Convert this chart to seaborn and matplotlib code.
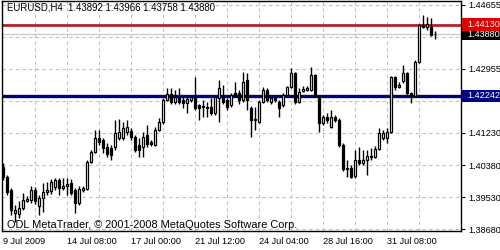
import matplotlib
matplotlib.use("Agg")
import numpy as np
import pandas as pd
import seaborn as sns
import matplotlib.pyplot as plt
import matplotlib.transforms as mtransforms
from matplotlib.patches import Rectangle

# ---------------- data ----------------
opens = [1.4035, 1.4009, 1.3974, 1.3913, 1.3910, 1.3926, 1.3945, 1.3948, 1.3974, 1.3932,
         1.3953, 1.3969, 1.3972, 1.3982, 1.4001, 1.3980, 1.3985, 1.3993, 1.3974, 1.3940,
         1.3974, 1.3977, 1.4048, 1.4075, 1.4112, 1.4107, 1.4088, 1.4085, 1.4088, 1.4112,
         1.4112, 1.4128, 1.4131, 1.4115, 1.4094, 1.4088, 1.4120, 1.4101, 1.4094, 1.4133,
         1.4155, 1.4213, 1.4229, 1.4208, 1.4221, 1.4213, 1.4205, 1.4213, 1.4218, 1.4200,
         1.4197, 1.4194, 1.4194, 1.4179, 1.4218, 1.4218, 1.4213, 1.4200, 1.4232, 1.4232,
         1.4213, 1.4266, 1.4192, 1.4160, 1.4155, 1.4208, 1.4240, 1.4208, 1.4221, 1.4208,
         1.4200, 1.4226, 1.4248, 1.4285, 1.4208, 1.4237, 1.4240, 1.4240, 1.4280, 1.4224,
         1.4152, 1.4168, 1.4141, 1.4168, 1.4160, 1.4094, 1.4032, 1.4032, 1.4011, 1.4054,
         1.4046, 1.4054, 1.4061, 1.4061, 1.4083, 1.4112, 1.4112, 1.4128, 1.4274, 1.4248,
         1.4264, 1.4285, 1.4232, 1.4224, 1.4314, 1.4412, 1.4407, 1.4407, 1.43892]
highs = [1.4046, 1.4014, 1.3980, 1.3934, 1.3945, 1.3966, 1.3958, 1.3985, 1.3982, 1.3961,
         1.3993, 1.3995, 1.4003, 1.4006, 1.4006, 1.4006, 1.4006, 1.4003, 1.3980, 1.3985,
         1.3985, 1.4054, 1.4080, 1.4133, 1.4133, 1.4112, 1.4099, 1.4094, 1.4160, 1.4163,
         1.4155, 1.4160, 1.4139, 1.4120, 1.4112, 1.4128, 1.4147, 1.4107, 1.4141, 1.4165,
         1.4218, 1.4245, 1.4245, 1.4240, 1.4245, 1.4221, 1.4221, 1.4226, 1.4274, 1.4202,
         1.4213, 1.4208, 1.4218, 1.4224, 1.4266, 1.4253, 1.4218, 1.4232, 1.4261, 1.4240,
         1.4288, 1.4285, 1.4197, 1.4194, 1.4213, 1.4248, 1.4245, 1.4221, 1.4226, 1.4213,
         1.4232, 1.4250, 1.4298, 1.4288, 1.4245, 1.4250, 1.4250, 1.4301, 1.4282, 1.4226,
         1.4173, 1.4179, 1.4187, 1.4173, 1.4165, 1.4099, 1.4054, 1.4040, 1.4080, 1.4088,
         1.4080, 1.4080, 1.4085, 1.4091, 1.4139, 1.4133, 1.4139, 1.4277, 1.4277, 1.4261,
         1.4306, 1.4288, 1.4234, 1.4319, 1.4415, 1.4439, 1.4434, 1.4431, 1.43966]
lows = [1.4001, 1.3961, 1.3908, 1.3890, 1.3900, 1.3921, 1.3942, 1.3940, 1.3937, 1.3908,
        1.3916, 1.3961, 1.3964, 1.3974, 1.3961, 1.3974, 1.3961, 1.3961, 1.3913, 1.3934,
        1.3969, 1.3974, 1.4046, 1.4072, 1.4094, 1.4072, 1.4061, 1.4054, 1.4080, 1.4107,
        1.4107, 1.4120, 1.4107, 1.4075, 1.4061, 1.4061, 1.4088, 1.4091, 1.4091, 1.4131,
        1.4149, 1.4210, 1.4202, 1.4202, 1.4202, 1.4192, 1.4179, 1.4208, 1.4187, 1.4160,
        1.4168, 1.4168, 1.4173, 1.4173, 1.4155, 1.4202, 1.4187, 1.4194, 1.4224, 1.4202,
        1.4208, 1.4187, 1.4115, 1.4133, 1.4152, 1.4205, 1.4208, 1.4202, 1.4208, 1.4168,
        1.4194, 1.4224, 1.4245, 1.4202, 1.4205, 1.4234, 1.4237, 1.4237, 1.4221, 1.4128,
        1.4147, 1.4152, 1.4139, 1.4155, 1.4088, 1.4024, 1.4009, 1.4006, 1.4006, 1.4040,
        1.4040, 1.4014, 1.4054, 1.4059, 1.4080, 1.4107, 1.4099, 1.4125, 1.4240, 1.4245,
        1.4258, 1.4226, 1.4205, 1.4221, 1.4311, 1.4404, 1.4399, 1.4383, 1.43758]
closes = [1.4009, 1.3969, 1.3921, 1.3921, 1.3926, 1.3948, 1.3950, 1.3974, 1.3945, 1.3953,
          1.3969, 1.3974, 1.3995, 1.4001, 1.3980, 1.3985, 1.3990, 1.3966, 1.3940, 1.3977,
          1.3980, 1.4048, 1.4075, 1.4112, 1.4101, 1.4085, 1.4069, 1.4067, 1.4125, 1.4128,
          1.4139, 1.4141, 1.4115, 1.4080, 1.4080, 1.4115, 1.4096, 1.4096, 1.4133, 1.4155,
          1.4213, 1.4229, 1.4208, 1.4221, 1.4208, 1.4205, 1.4216, 1.4221, 1.4192, 1.4192,
          1.4194, 1.4192, 1.4179, 1.4221, 1.4245, 1.4208, 1.4194, 1.4226, 1.4226, 1.4213,
          1.4261, 1.4213, 1.4160, 1.4163, 1.4208, 1.4240, 1.4213, 1.4218, 1.4213, 1.4192,
          1.4226, 1.4248, 1.4285, 1.4208, 1.4234, 1.4242, 1.4245, 1.4280, 1.4224, 1.4152,
          1.4168, 1.4160, 1.4168, 1.4160, 1.4094, 1.4030, 1.4030, 1.4009, 1.4054, 1.4046,
          1.4054, 1.4064, 1.4064, 1.4083, 1.4125, 1.4125, 1.4128, 1.4274, 1.4248, 1.4253,
          1.4285, 1.4232, 1.4224, 1.4314, 1.4412, 1.4407, 1.4415, 1.4386, 1.43880]

xtick_bars = [0, 16, 32, 48, 64, 80, 96]
xtick_labels = ["9 Jul 2009", "14 Jul 08:00", "17 Jul 00:00", "21 Jul 12:00",
                "24 Jul 04:00", "28 Jul 16:00", "31 Jul 08:00"]
xgrid_bars = [8, 24, 40, 56, 72, 88, 104]
ytick_vals = [1.44655, 1.43805, 1.42955, 1.42105, 1.41255, 1.40405, 1.39555, 1.38705]
# labels at 1.43805 and 1.42105 are covered by the price boxes in the reference
ytick_labels = ["1.44655", "", "1.42955", "", "1.41230", "1.40380", "1.39530", "1.38680"]

title_text = "EURUSD,H4  1.43892 1.43966 1.43758 1.43880"
footer_text = "ODL MetaTrader, \u00a9 2001-2008 MetaQuotes Software Corp."

red_level = 1.44130
bid_level = 1.43880
blue_level = 1.42242

df = pd.DataFrame({"open": opens, "high": highs, "low": lows, "close": closes})
df["bar"] = np.arange(len(df))
df["bull"] = df["close"] >= df["open"]

# ---------------- style ----------------
sns.set_theme(style="white")
plt.rcParams["font.family"] = ["Liberation Sans", "DejaVu Sans"]
FS = 6.6

fig = plt.figure(figsize=(5, 2.5), dpi=100)
fig.patch.set_facecolor("white")
ax = fig.add_axes([2 / 500, 1 - 231 / 250, 459 / 500, 230 / 250])
ax.set_facecolor("white")

ax.set_xlim(-0.25, 114.5)
ax.set_ylim(1.38652, 1.44761)

# grid
for yv in ytick_vals:
    ax.axhline(yv, color="#c0c0c0", lw=0.8, ls=(0, (3, 3)), zorder=0)
for xv in xtick_bars[1:] + xgrid_bars:
    ax.axvline(xv, color="#c0c0c0", lw=0.8, ls=(0, (3, 3)), zorder=0)

# level lines
ax.axhline(bid_level, color="#c8c8c8", lw=0.9, zorder=1)
ax.axhline(red_level, color="#b8202a", lw=2.0, zorder=1)
ax.axhline(blue_level, color="#000080", lw=2.4, zorder=1)

# wicks
ax.vlines(df["bar"], df["low"], df["high"], color="black", lw=1.0, zorder=2)
# bodies
bull = df[df["bull"]]
bear = df[~df["bull"]]
ax.bar(bull["bar"], (bull["close"] - bull["open"]).clip(lower=0.00005), bottom=bull["open"],
       width=0.62, facecolor="white", edgecolor="black", linewidth=0.9, zorder=3)
ax.bar(bear["bar"], bear["close"] - bear["open"], bottom=bear["open"],
       width=0.62, facecolor="black", edgecolor="black", linewidth=0.9, zorder=3)

# axes ticks
ax.set_xticks(xtick_bars)
ax.set_xticklabels(xtick_labels, fontsize=FS, color="black")
for lbl in ax.get_xticklabels():
    lbl.set_horizontalalignment("left")
ax.tick_params(axis="x", direction="out", length=3, width=0.8, color="black", pad=1.5)

ax.yaxis.tick_right()
ax.set_yticks(ytick_vals)
ax.set_yticklabels(ytick_labels, fontsize=FS, color="black")
ax.tick_params(axis="y", direction="out", length=3, width=0.8, color="black", pad=2)

for s in ax.spines.values():
    s.set_color("black")
    s.set_linewidth(1.0)
    s.set_visible(True)

# price boxes on the right
trans = mtransforms.blended_transform_factory(ax.transAxes, ax.transData)
half = 6.3 * 0.000265625
for price, col, txt in [(bid_level, "black", "1.43880"), (red_level, "#e00000", "1.44130"),
                        (blue_level, "#000080", "1.42242")]:
    r = Rectangle((1 + 1 / 459, price - half), 38 / 459, 2 * half, transform=trans,
                  facecolor=col, edgecolor="none", clip_on=False, zorder=10)
    ax.add_patch(r)
    ax.text(1 + 6 / 459, price, txt, transform=trans, fontsize=FS, color="white",
            va="center", ha="left", clip_on=False, zorder=11)

fig.text(7 / 500, 1 - 3 / 250, title_text, fontsize=6.9, color="black", va="top", ha="left")
fig.text(7 / 500, 1 - 227.5 / 250, footer_text, fontsize=7.9, color="black",
         va="baseline", ha="left")

fig.savefig("out.png", dpi=100, facecolor="white")
